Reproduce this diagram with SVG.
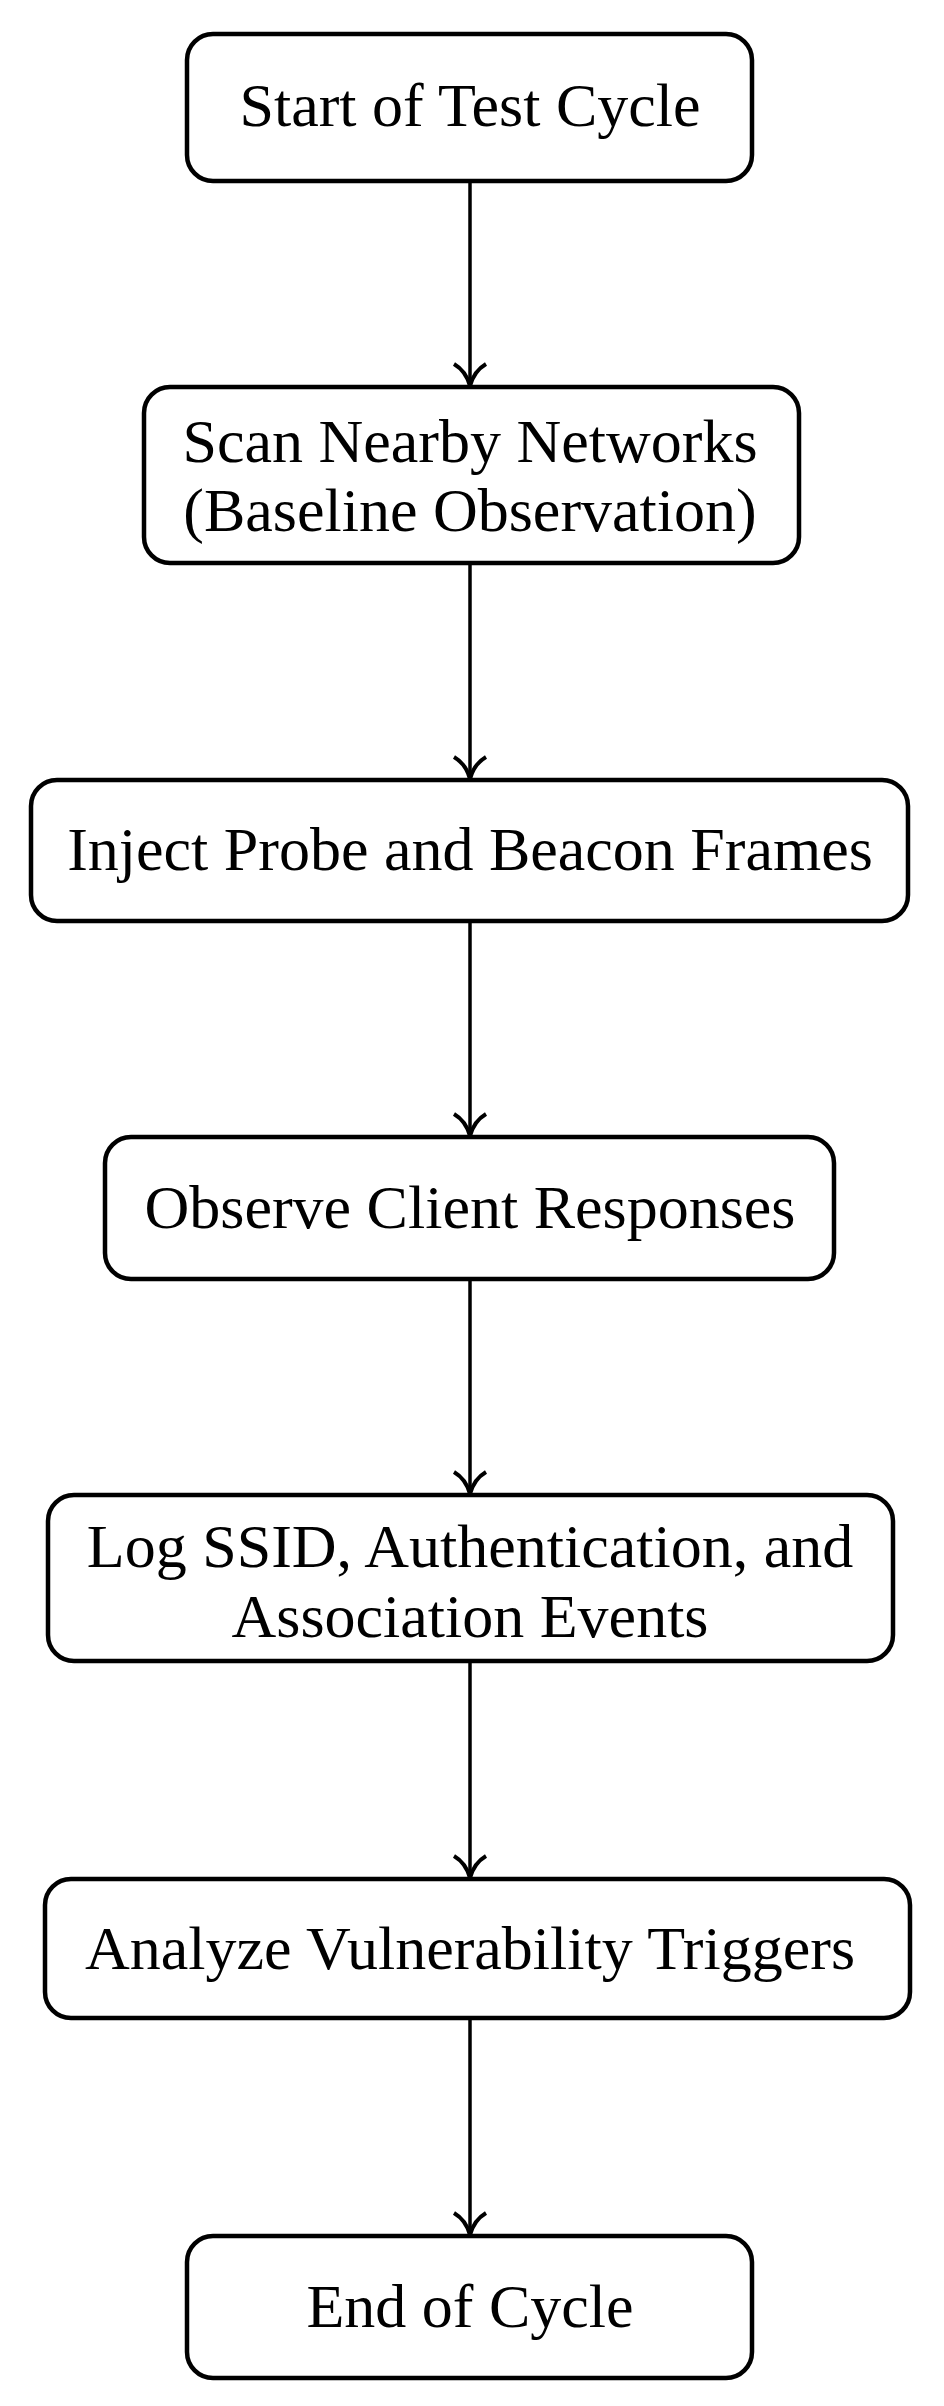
<svg xmlns="http://www.w3.org/2000/svg" width="944" height="2406" viewBox="0 0 944 2406">
<style>
.b{fill:#fff;stroke:#000;stroke-width:4.5}
.t{font-family:"Liberation Serif","DejaVu Serif",serif;font-size:62px;fill:#000;text-anchor:middle}
.c{stroke:#000;stroke-width:3.5;fill:none}
</style>
<defs>
<marker id="a" markerUnits="userSpaceOnUse" markerWidth="40" markerHeight="40" refX="36" refY="20" orient="auto" viewBox="0 0 40 40">
<path d="M14 4 Q21 16 36 20 Q21 24 14 36" fill="none" stroke="#000" stroke-width="4"/>
</marker>
</defs>
<rect width="944" height="2406" fill="#fff"/>
<g id="connectors">
<line class="c" x1="470" y1="181" x2="470" y2="386" marker-end="url(#a)"/>
<line class="c" x1="470" y1="563" x2="470" y2="779" marker-end="url(#a)"/>
<line class="c" x1="470" y1="921" x2="470" y2="1136" marker-end="url(#a)"/>
<line class="c" x1="470" y1="1279" x2="470" y2="1494" marker-end="url(#a)"/>
<line class="c" x1="470" y1="1661" x2="470" y2="1878" marker-end="url(#a)"/>
<line class="c" x1="470" y1="2018" x2="470" y2="2235" marker-end="url(#a)"/>
</g>
<g id="n1"><rect class="b" x="187" y="34" width="565" height="147" rx="26"/><text class="t" x="470" y="126">Start of Test Cycle</text></g>
<g id="n2"><rect class="b" x="144" y="387" width="655" height="176" rx="26"/><text class="t" x="470" y="462">Scan Nearby Networks</text><text class="t" x="470" y="531">(Baseline Observation)</text></g>
<g id="n3"><rect class="b" x="31" y="780" width="877" height="141" rx="26"/><text class="t" x="470" y="870">Inject Probe and Beacon Frames</text></g>
<g id="n4"><rect class="b" x="105" y="1137" width="729" height="142" rx="26"/><text class="t" x="470" y="1228">Observe Client Responses</text></g>
<g id="n5"><rect class="b" x="48" y="1495" width="845" height="166" rx="26"/><text class="t" x="470" y="1567">Log SSID, Authentication, and</text><text class="t" x="470" y="1637">Association Events</text></g>
<g id="n6"><rect class="b" x="45" y="1879" width="865" height="139" rx="26"/><text class="t" x="470" y="1969">Analyze Vulnerability Triggers</text></g>
<g id="n7"><rect class="b" x="187" y="2236" width="565" height="142" rx="26"/><text class="t" x="470" y="2327">End of Cycle</text></g>
</svg>
